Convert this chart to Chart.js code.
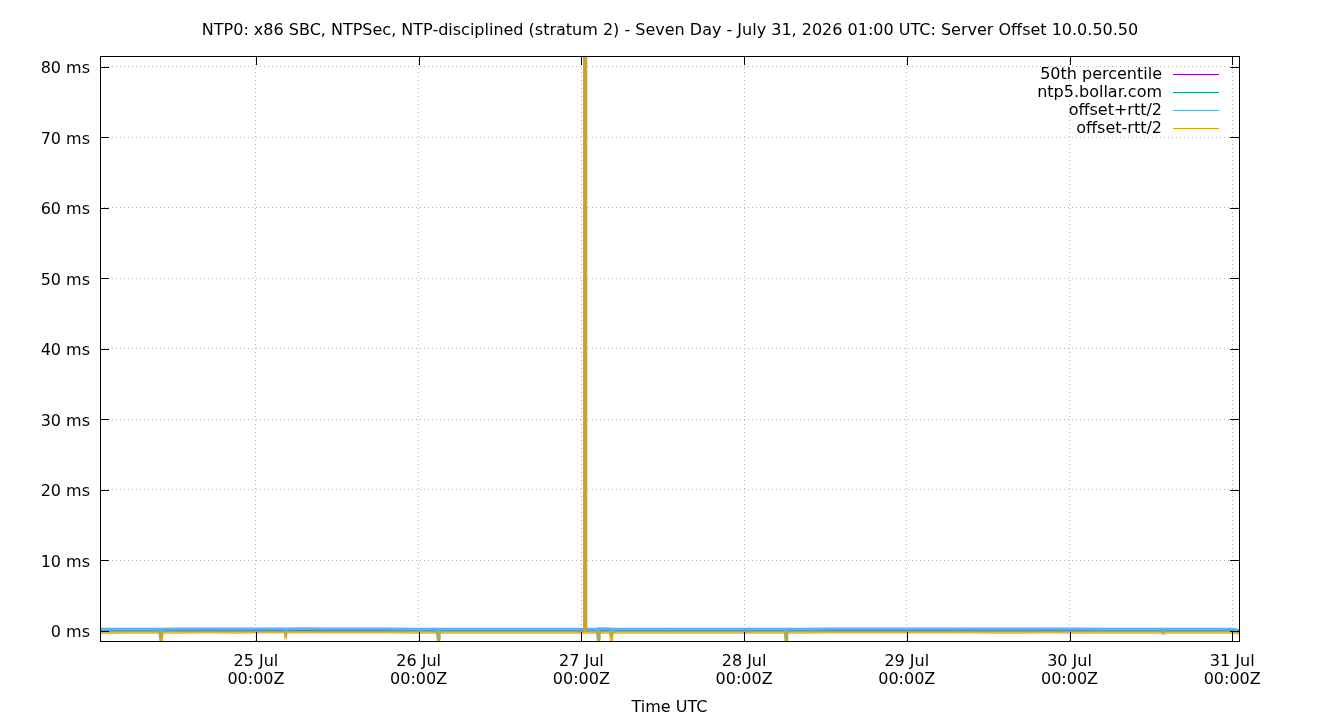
<!DOCTYPE html>
<html>
<head>
<meta charset="utf-8">
<script src="https://cdn.jsdelivr.net/npm/chart.js@4/dist/chart.umd.min.js"></script>
<style>
  html, body { margin: 0; padding: 0; background: #fff; }
  #wrap { width: 1340px; height: 720px; }
</style>
</head>
<body>
<div id="wrap"><canvas id="offsetChart" width="1340" height="720"></canvas></div>
<script>
/* ── data: hours since 24 Jul 01:00 UTC, values in ms ── */
const hours = [
  0, 4, 8.8, 9.0, 9.2, 12, 16, 20, 24, 27.3, 27.4, 27.5, 30, 34, 38, 42, 46,
  49.8, 49.9, 50.0, 54, 58, 62, 66, 70, 71.4, 71.5, 71.55, 71.65, 73.4, 73.5, 73.6,
  75.3, 75.4, 75.5, 78, 82, 86, 90, 94, 98, 101.1, 101.2, 101.3, 104, 108, 112,
  116, 120, 124, 128, 132, 136, 140, 144, 148, 152, 156.7, 156.8, 156.9, 160, 164, 167, 168
];
const offsetMs = [
  0.02, 0.03, 0.03, -1.6, 0.02, 0.04, 0.05, 0.04, 0.05, 0.04, -0.2, 0.04, 0.06, 0.05, 0.05, 0.04, 0.04,
  0.04, -1.6, 0.04, 0.03, 0.03, 0.04, 0.03, 0.03, 0.03, 84, 84, 0.03, 0.03, -1.5, 0.04,
  0.04, -0.8, 0.03, 0.03, 0.02, 0.03, 0.02, 0.03, 0.03, 0.03, -1.6, 0.03, 0.04, 0.05, 0.05,
  0.05, 0.05, 0.04, 0.05, 0.04, 0.04, 0.05, 0.04, 0.04, 0.03, 0.03, -0.15, 0.03, 0.03, 0.03, 0.03, -0.15
];
const plusRttMs = [
  0.24, 0.26, 0.25, -0.9, 0.24, 0.27, 0.28, 0.27, 0.29, 0.27, 0.1, 0.27, 0.3, 0.29, 0.28, 0.27, 0.26,
  0.26, -1.0, 0.26, 0.25, 0.24, 0.25, 0.24, 0.24, 0.24, 86, 86, 0.24, 0.27, -1.0, 0.32,
  0.28, -0.4, 0.24, 0.24, 0.23, 0.24, 0.23, 0.24, 0.24, 0.24, -1.0, 0.24, 0.26, 0.28, 0.28,
  0.29, 0.28, 0.27, 0.28, 0.27, 0.27, 0.28, 0.27, 0.26, 0.25, 0.25, 0.0, 0.25, 0.24, 0.25, 0.26, 0.05
];
const minusRttMs = [
  -0.24, -0.23, -0.22, -1.7, -0.22, -0.21, -0.19, -0.2, -0.18, -0.19, -0.45, -0.19, -0.17, -0.18, -0.18, -0.19, -0.2,
  -0.19, -1.7, -0.19, -0.2, -0.21, -0.2, -0.21, -0.21, -0.21, 82, 82, -0.21, -0.21, -1.6, -0.2,
  -0.2, -1.6, -0.21, -0.21, -0.22, -0.21, -0.22, -0.21, -0.21, -0.21, -1.7, -0.21, -0.2, -0.19, -0.19,
  -0.18, -0.19, -0.19, -0.19, -0.2, -0.2, -0.19, -0.2, -0.2, -0.21, -0.21, -0.37, -0.21, -0.22, -0.21, -0.19, -0.32
];
const medianHours = [0, 168];
const medianMs = [0.04, 0.04];

const seriesNames = ['50th percentile', 'ntp5.bollar.com', 'offset+rtt/2', 'offset-rtt/2'];
const seriesColors = ['#9400d3', '#009e73', '#56b4e9', '#e69f00'];

const yTicks = [0, 10, 20, 30, 40, 50, 60, 70, 80];
const xTickHours = [23, 47, 71, 95, 119, 143, 167];
const xTickLabels = [
  ['25 Jul', '00:00Z'], ['26 Jul', '00:00Z'], ['27 Jul', '00:00Z'], ['28 Jul', '00:00Z'],
  ['29 Jul', '00:00Z'], ['30 Jul', '00:00Z'], ['31 Jul', '00:00Z']
];
const FONT = "'DejaVu Sans', sans-serif";

const toPoints = (xs, ys) => xs.map((x, i) => ({ x, y: ys[i] }));

// gnuplot-ish frame, inward mirrored ticks, right-aligned key
const framePlugin = {
  id: 'frame',
  afterDraw(chart) {
    const { ctx, chartArea: a, scales } = chart;
    ctx.save();
    ctx.strokeStyle = '#000';
    ctx.lineWidth = 1;
    ctx.strokeRect(Math.round(a.left) + 0.5, Math.round(a.top) + 0.5, Math.round(a.right - a.left), Math.round(a.bottom - a.top));
    ctx.beginPath();
    xTickHours.forEach(h => {
      const px = Math.round(scales.x.getPixelForValue(h)) + 0.5;
      ctx.moveTo(px, a.bottom); ctx.lineTo(px, a.bottom - 9);
      ctx.moveTo(px, a.top); ctx.lineTo(px, a.top + 9);
    });
    yTicks.forEach(v => {
      const py = Math.round(scales.y.getPixelForValue(v)) + 0.5;
      ctx.moveTo(a.left, py); ctx.lineTo(a.left + 9, py);
      ctx.moveTo(a.right, py); ctx.lineTo(a.right - 9, py);
    });
    ctx.stroke();

    ctx.font = '16px ' + FONT;
    ctx.textAlign = 'right';
    ctx.textBaseline = 'middle';
    seriesNames.forEach((name, i) => {
      const y = a.top + 19 + i * 18;
      ctx.fillStyle = '#000';
      ctx.fillText(name, a.right - 77, y);
      ctx.strokeStyle = seriesColors[i];
      ctx.beginPath();
      ctx.moveTo(a.right - 66, Math.round(y) - 0.5);
      ctx.lineTo(a.right - 20, Math.round(y) - 0.5);
      ctx.stroke();
    });
    ctx.restore();
  }
};

const lineSet = (label, data, color, order, width) => ({
  label, data, borderColor: color, backgroundColor: color,
  borderWidth: width, pointRadius: 0, tension: 0, order, clip: 0
});

new Chart(document.getElementById('offsetChart'), {
  type: 'line',
  data: {
    datasets: [
      lineSet(seriesNames[3], toPoints(hours, minusRttMs), 'rgba(230,159,0,0.8)', 0, 2.5),
      lineSet(seriesNames[2], toPoints(hours, plusRttMs), seriesColors[2], 1, 3),
      lineSet(seriesNames[1], toPoints(hours, offsetMs), 'rgba(0,158,115,0.6)', 2, 2.5),
      lineSet(seriesNames[0], toPoints(medianHours, medianMs), seriesColors[0], 3, 1)
    ]
  },
  options: {
    responsive: false,
    animation: false,
    layout: { padding: 0 },
    plugins: {
      legend: { display: false },
      tooltip: { enabled: false },
      title: {
        display: true,
        text: 'NTP0: x86 SBC, NTPSec, NTP-disciplined (stratum 2) - Seven Day - July 31, 2026 01:00 UTC: Server Offset 10.0.50.50',
        color: '#000',
        font: { family: FONT, size: 16, weight: 'normal', lineHeight: 1.2 },
        padding: { top: 21.4, bottom: 15.4 }
      }
    },
    scales: {
      x: {
        type: 'linear', min: 0, max: 168,
        afterBuildTicks: s => { s.ticks = xTickHours.map(v => ({ value: v })); },
        afterFit: s => { s.height = 79; },
        ticks: {
          autoSkip: false, maxRotation: 0, padding: 12, color: '#000',
          font: { family: FONT, size: 16, lineHeight: 1.125 },
          callback: v => xTickLabels[xTickHours.indexOf(v)]
        },
        grid: { color: 'rgba(150,150,150,0.7)', drawTicks: false, lineWidth: 1 },
        border: { display: false, dash: [1, 3] },
        title: {
          display: true, text: 'Time UTC', color: '#000',
          font: { family: FONT, size: 16, lineHeight: 1.125 }, padding: { top: 3, bottom: 3 }
        }
      },
      y: {
        min: -1.42, max: 81.56,
        afterBuildTicks: s => { s.ticks = yTicks.map(v => ({ value: v })); },
        afterFit: s => { s.width = 100; },
        ticks: {
          padding: 10, color: '#000', labelOffset: 2,
          font: { family: FONT, size: 16 },
          callback: v => v + ' ms'
        },
        grid: { color: 'rgba(150,150,150,0.7)', drawTicks: false, lineWidth: 1 },
        border: { display: false, dash: [1, 3] }
      },
      // empty right-hand axis that only reserves the right margin
      yRight: {
        type: 'linear', position: 'right', display: true,
        afterFit: s => { s.width = 101; },
        ticks: { display: false },
        grid: { display: false },
        border: { display: false }
      }
    }
  },
  plugins: [framePlugin]
});
</script>
</body>
</html>
